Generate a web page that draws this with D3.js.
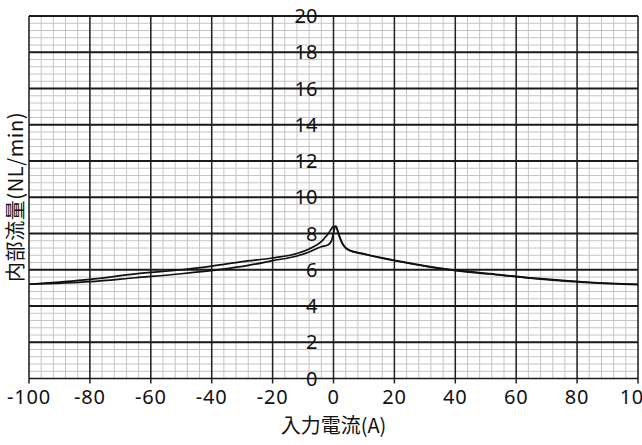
<!DOCTYPE html>
<html>
<head>
<meta charset="utf-8">
<script src="https://cdn.jsdelivr.net/npm/d3@7"></script>
<style>
  body { margin: 0; background: #fff; }
  text { font-family: "Noto Sans", "Noto Sans CJK JP", sans-serif; fill: #111; }
  text.jp { font-family: "Noto Sans CJK JP", "Noto Sans", sans-serif; }
</style>
</head>
<body>
<svg id="chart" width="642" height="445"></svg>
<script>
// x (A) / flow (NL/min)
var upX = [-100, -80, -65, -50, -40, -30, -20, -12, -8, -4, -1.7, 0, 0.8, 1.6, 2.6, 4.8, 10, 21, 31, 43, 55, 67, 84, 100];
var upY = [5.2, 5.47, 5.77, 6.0, 6.2, 6.45, 6.65, 6.9, 7.15, 7.55, 8.0, 8.38, 8.4, 8.0, 7.55, 7.1, 6.86, 6.47, 6.17, 5.9, 5.7, 5.5, 5.29, 5.18];
var lowX = [-100, -80, -65, -50, -37, -28, -20, -12, -8, -4, -1.7, -0.6, 0, 0.8, 1.6, 2.6, 4.8, 10, 21, 31, 43, 55, 67, 84, 100];
var lowY = [5.2, 5.34, 5.56, 5.78, 6.02, 6.24, 6.5, 6.76, 6.98, 7.27, 7.38, 7.62, 8.05, 8.4, 8.02, 7.57, 7.12, 6.88, 6.49, 6.19, 5.92, 5.72, 5.52, 5.31, 5.2];
var xTicks = [-100, -80, -60, -40, -20, 0, 20, 40, 60, 80, 100];
var yTicks = [0, 2, 4, 6, 8, 10, 12, 14, 16, 18, 20];

var svg = d3.select('#chart');
var x = d3.scaleLinear().domain([-100, 100]).range([29, 638]);
var y = d3.scaleLinear().domain([0, 20]).range([378.5, 16]);

var grid = svg.append('g');

// minor grid
grid.selectAll('line.mx').data(d3.range(-100, 101, 4)).enter().append('line')
    .attr('x1', function (d) { return x(d); }).attr('x2', function (d) { return x(d); })
    .attr('y1', y(0)).attr('y2', y(20))
    .attr('stroke', '#c4c4c4').attr('stroke-width', 1);
grid.selectAll('line.my').data(d3.range(0, 50).map(function (i) { return i * 0.4; })).enter().append('line')
    .attr('x1', x(-100)).attr('x2', x(100))
    .attr('y1', function (d) { return y(d); }).attr('y2', function (d) { return y(d); })
    .attr('stroke', '#c4c4c4').attr('stroke-width', 1);

// major grid + ticks
grid.selectAll('line.Mx').data(xTicks).enter().append('line')
    .attr('x1', function (d) { return x(d); }).attr('x2', function (d) { return x(d); })
    .attr('y1', y(0) + 5).attr('y2', y(20))
    .attr('stroke', '#222').attr('stroke-width', 1.5);
grid.selectAll('line.My').data(yTicks).enter().append('line')
    .attr('x1', x(-100)).attr('x2', x(100))
    .attr('y1', function (d) { return y(d); }).attr('y2', function (d) { return y(d); })
    .attr('stroke', '#1a1a1a').attr('stroke-width', function (d) { return d === 0 ? 1.3 : 2; });

// y labels sit left of the x=0 line
svg.append('g').selectAll('text').data(yTicks).enter().append('text')
    .attr('x', x(0) - 16).attr('y', function (d) { return y(d); })
    .attr('dy', '0.35em').attr('text-anchor', 'end')
    .style('font-size', '20px')
    .text(function (d) { return d; });

svg.append('g').selectAll('text').data(xTicks).enter().append('text')
    .attr('x', function (d) { return x(d); }).attr('y', 404)
    .attr('text-anchor', 'middle')
    .style('font-size', '20px').style('letter-spacing', '0.8px')
    .text(function (d) { return d; });

var line = d3.line()
    .x(function (d) { return x(d[0]); })
    .y(function (d) { return y(d[1]); })
    .curve(d3.curveMonotoneX);

[[upX, upY], [lowX, lowY]].forEach(function (s) {
    svg.append('path')
        .datum(d3.zip(s[0], s[1]))
        .attr('d', line)
        .attr('fill', 'none')
        .attr('stroke', '#111')
        .attr('stroke-width', 1.7);
});

svg.append('text').attr('class', 'jp')
    .attr('x', x(0)).attr('y', 433)
    .attr('text-anchor', 'middle')
    .style('font-size', '20px')
    .text('入力電流(A)');

svg.append('text').attr('class', 'jp')
    .attr('transform', 'translate(23,197) rotate(-90)')
    .attr('text-anchor', 'middle')
    .style('font-size', '20px').style('letter-spacing', '0.6px')
    .text('内部流量(NL/min)');
</script>
</body>
</html>
